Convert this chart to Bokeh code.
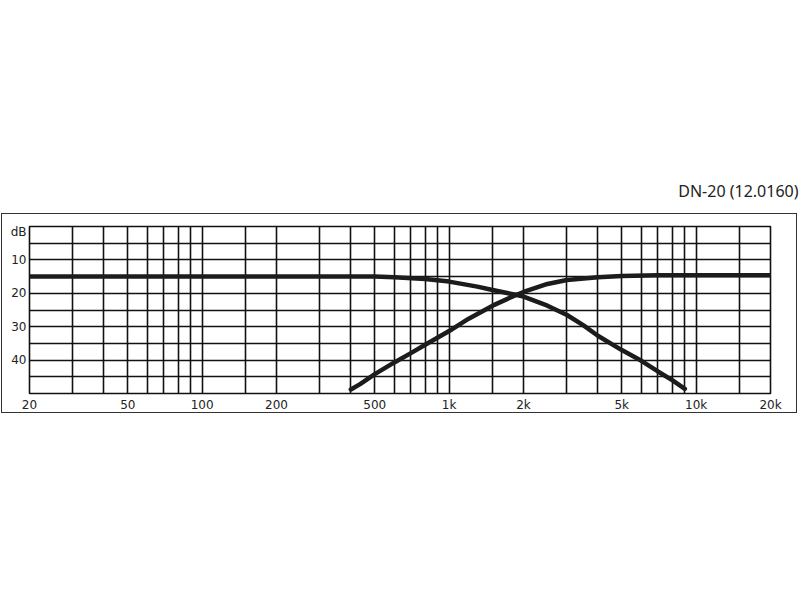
from bokeh.plotting import figure
from bokeh.models import Range1d, FixedTicker, InlineStyleSheet
from bokeh.embed import file_html
from bokeh.resources import INLINE

# Low-pass branch (frequency in Hz, attenuation in dB)
lp_freq = [20, 300, 500, 600, 800, 1000, 1300, 1500, 1900, 2000, 2500, 3000, 3500, 4000, 5000, 6000, 7000, 8000, 9000]
lp_db = [15, 15, 15, 15.2, 15.7, 16.5, 18.0, 19.0, 20.6, 21.0, 23.7, 26.5, 29.6, 32.7, 37.0, 40.2, 43.4, 46.0, 48.6]

# High-pass branch
hp_freq = [400, 436, 500, 600, 700, 800, 1000, 1200, 1500, 1800, 2000, 2500, 3000, 4000, 5000, 7000, 20000]
hp_db = [48.8, 47.2, 44.2, 40.7, 37.9, 35.4, 31.3, 27.6, 23.7, 21.0, 19.6, 17.2, 16.0, 15.2, 14.8, 14.6, 14.6]

x_tick_vals = [20, 50, 100, 200, 500, 1000, 2000, 5000, 10000, 20000]
x_tick_text = ["20", "50", "100", "200", "500", "1k", "2k", "5k", "10k", "20k"]
x_grid_vals = [20, 30, 40, 50, 60, 70, 80, 90, 100, 150, 200, 300, 400, 500, 600, 700, 800, 900,
               1000, 1500, 2000, 3000, 4000, 5000, 6000, 7000, 8000, 9000, 10000, 15000, 20000]

y_tick_vals = [1.7, 10, 20, 30, 40]
y_tick_text = ["dB", "10", "20", "30", "40"]
y_grid_vals = [0, 5, 10, 15, 20, 25, 30, 35, 40, 45, 50]

title_text = "DN-20 (12.0160)"

W, H = 800, 418
box_css = (":host::after{content:'';position:absolute;left:1px;top:213px;width:796px;height:200px;"
           "border:1.6px solid #333;box-sizing:border-box;pointer-events:none;}")

p = figure(width=W, height=H, x_axis_type="log",
           x_range=Range1d(20, 20000), y_range=Range1d(50, 0),
           output_backend="svg", toolbar_location=None,
           min_border_left=29, min_border_right=30, min_border_top=226, min_border_bottom=25)
p.stylesheets = [InlineStyleSheet(css=box_css)]

p.background_fill_color = "white"
p.border_fill_color = "white"
p.outline_line_color = "#111111"
p.outline_line_width = 1.6

# title: right-aligned, lifted above the grid by a blank second line
p.title.text = title_text + "\n "
p.title.align = "right"
p.title.offset = -28
p.title.text_font = "Noto Sans"
p.title.text_font_size = "16px"
p.title.text_font_style = "normal"
p.title.text_color = "#222222"
p.title.text_line_height = 0.9

# axes
for ax in (p.xaxis[0], p.yaxis[0]):
    ax.axis_line_color = None
    ax.major_tick_line_color = None
    ax.minor_tick_line_color = None
    ax.major_tick_in = 0
    ax.major_tick_out = 0
    ax.minor_tick_in = 0
    ax.minor_tick_out = 0
    ax.major_label_text_font = "DejaVu Sans"
    ax.major_label_text_font_size = "12px"
    ax.major_label_text_color = "#222222"

p.xaxis[0].ticker = FixedTicker(ticks=x_tick_vals)
p.xaxis[0].major_label_overrides = {v: t for v, t in zip(x_tick_vals, x_tick_text)}
p.xaxis[0].major_label_standoff = 4

p.yaxis[0].ticker = FixedTicker(ticks=y_tick_vals)
p.yaxis[0].major_label_overrides = {v: t for v, t in zip(y_tick_vals, y_tick_text)}
p.yaxis[0].major_label_standoff = 3

# grid
p.xgrid[0].ticker = FixedTicker(ticks=x_grid_vals)
p.ygrid[0].ticker = FixedTicker(ticks=y_grid_vals)
for g in (p.xgrid[0], p.ygrid[0]):
    g.grid_line_color = "#111111"
    g.grid_line_width = 1.6
    g.grid_line_alpha = 1.0

# curves
p.line(lp_freq, lp_db, line_color="#1c1c1c", line_width=4.5, line_join="round", line_cap="round")
p.line(hp_freq, hp_db, line_color="#1c1c1c", line_width=4.5, line_join="round", line_cap="round")

open("out.html", "w").write(file_html(p, INLINE))
